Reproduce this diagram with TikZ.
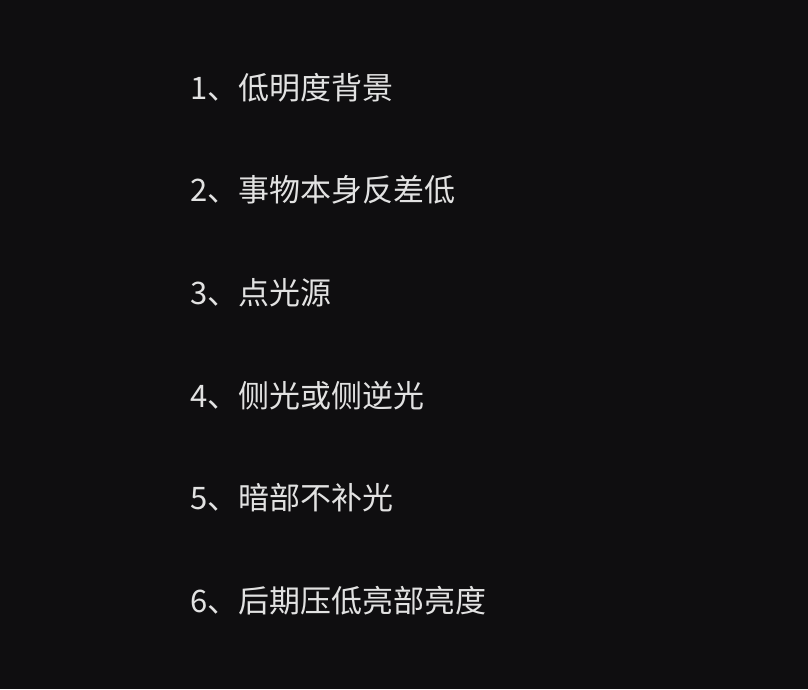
\documentclass[tikz,border=0pt]{standalone}
\usepackage{fontspec}
\setmainfont{Noto Sans CJK SC}
\definecolor{bg}{HTML}{0F0E10}
\definecolor{fg}{HTML}{E2E2E2}
\begin{document}
\begin{tikzpicture}[x=1pt,y=1pt,
  item/.style={anchor=west,inner sep=0pt,text=fg,font=\fontsize{31}{31}\selectfont}]
\fill[bg] (0,0) rectangle (808,689);
\useasboundingbox (0,0) rectangle (808,689);
\node[item] (l1) at (190,689-88) {1、低明度背景};
\node[item] (l2) at (190,689-190) {2、事物本身反差低};
\node[item] (l3) at (190,689-293) {3、点光源};
\node[item] (l4) at (190,689-396) {4、侧光或侧逆光};
\node[item] (l5) at (190,689-498) {5、暗部不补光};
\node[item] (l6) at (190,689-601) {6、后期压低亮部亮度};
\end{tikzpicture}
\end{document}
